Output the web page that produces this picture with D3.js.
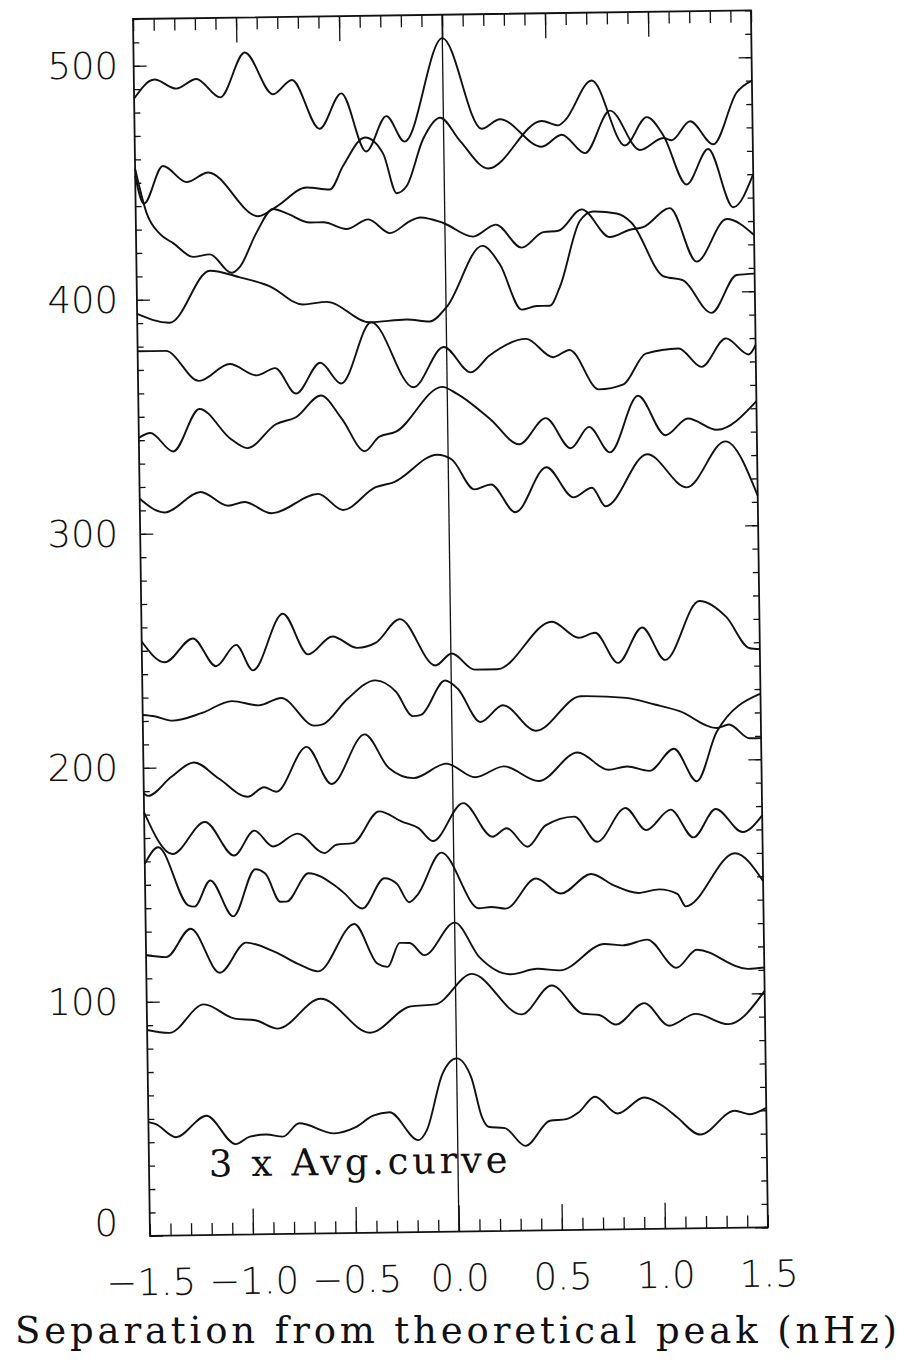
<!DOCTYPE html>
<html>
<head>
<meta charset="utf-8">
<script src="https://cdn.jsdelivr.net/npm/d3@7"></script>
<style>
  body { margin: 0; background: #fff; }
  .tick line { stroke: #111; stroke-width: 1.3; }
  .curve { fill: none; stroke: #111; stroke-width: 1.9; stroke-linejoin: round; }
</style>
</head>
<body>
<div id="chart"></div>
<script>
// each curve: [separation (nHz), value] at its turning points
var curveA = [[-1.5,486],[-1.40,494],[-1.295,490],[-1.197,494],[-1.082,486],[-0.96,505],[-0.826,487],[-0.733,493],[-0.602,472],[-0.494,487],[-0.377,462],[-0.277,477],[-0.19,466],[0.0,510],[0.185,471],[0.274,475],[0.475,463],[0.573,468],[0.685,460],[0.809,478],[0.952,461],[1.066,466],[1.106,465],[1.197,473],[1.308,463],[1.425,485],[1.5,490]];
var curveB = [[-1.5,453],[-1.46,441],[-1.365,457],[-1.25,450],[-1.146,454],[-0.906,435],[-0.816,439],[-0.669,447],[-0.556,446],[-0.49,456],[-0.382,468],[-0.295,461],[-0.232,444],[-0.183,447],[-0.1,467],[-0.016,476],[0.079,466],[0.214,454],[0.477,474],[0.557,472],[0.589,474],[0.722,491],[0.879,463],[0.987,475],[1.067,467],[1.176,446],[1.283,461],[1.401,436],[1.5,450]];
var curveC = [[-1.5,456],[-1.447,437],[-1.384,428],[-1.32,424],[-1.224,418],[-1.143,419],[-1.039,411],[-0.998,413.5],[-0.915,428],[-0.833,438],[-0.767,436],[-0.655,432],[-0.59,432],[-0.478,429],[-0.372,433],[-0.267,427],[-0.169,432],[-0.12,433.5],[-0.008,431],[0.136,425],[0.247,430],[0.371,420],[0.477,426.5],[0.55,427],[0.665,436],[0.8,424],[0.897,427],[0.962,428],[1.093,436],[1.219,413],[1.368,431],[1.5,424]];
var curveD = [[-1.5,394],[-1.342,390],[-1.144,412],[-0.999,409],[-0.854,405],[-0.694,397],[-0.58,398],[-0.371,389],[-0.192,390],[-0.08,389],[0.002,395],[0.18,421],[0.264,413],[0.367,393.5],[0.44,395],[0.504,395],[0.554,403],[0.655,431],[0.72,435],[0.834,434],[0.906,430],[1.056,407],[1.153,405],[1.288,391],[1.413,407],[1.5,407.5]];
var curveE = [[-1.5,378],[-1.364,378],[-1.204,365],[-1.054,372],[-0.924,367],[-0.834,370],[-0.734,359],[-0.614,372],[-0.514,363],[-0.364,389],[-0.164,361],[-0.014,378],[0.116,367],[0.206,374],[0.386,381],[0.516,373],[0.596,376],[0.736,359],[0.856,361],[0.966,374],[1.126,376],[1.236,368],[1.356,380],[1.466,373],[1.5,377]];
var curveF = [[-1.5,341],[-1.444,343],[-1.334,335],[-1.204,353],[-1.054,340],[-0.974,336],[-0.834,346],[-0.734,349],[-0.614,358],[-0.514,348],[-0.404,334],[-0.334,340],[-0.254,342],[-0.024,361],[0.046,358],[0.206,347],[0.346,336],[0.476,347],[0.596,334],[0.686,343],[0.786,332],[0.926,356],[1.056,339],[1.166,346],[1.306,341],[1.5,353]];
var curveG = [[-1.5,315],[-1.38,309],[-1.204,317.5],[-1.072,311.5],[-0.992,313],[-0.861,308],[-0.634,316],[-0.514,309],[-0.354,318.5],[-0.264,320.6],[-0.054,332],[0.016,330],[0.126,317],[0.206,319],[0.323,307],[0.476,326],[0.606,313],[0.696,317],[0.761,309],[0.966,331],[1.156,316.6],[1.346,336],[1.5,312.6]];
var curveH = [[-1.5,254],[-1.39,245],[-1.251,255],[-1.141,243],[-1.042,252],[-0.962,241],[-0.813,265],[-0.693,247.5],[-0.574,255],[-0.454,250],[-0.365,252],[-0.245,262],[-0.076,242],[0.004,247],[0.114,240],[0.223,240],[0.492,260],[0.622,253],[0.701,255],[0.811,242],[0.93,257],[1.04,243],[1.209,268],[1.339,261],[1.448,247.6],[1.5,247]];
var curveI = [[-1.5,222.6],[-1.444,222],[-1.355,220],[-1.215,223],[-1.066,228],[-0.936,226],[-0.827,229],[-0.667,217],[-0.627,217.5],[-0.508,228],[-0.369,236],[-0.269,231],[-0.189,220.5],[-0.149,221],[-0.03,235.5],[0.03,232],[0.139,217.6],[0.249,224.6],[0.408,213.5],[0.627,228],[0.847,227],[0.986,224],[1.106,221],[1.285,213.6],[1.345,215],[1.444,209],[1.5,209]];
var curveJ = [[-1.5,189],[-1.48,188],[-1.365,196],[-1.255,202],[-1.135,195],[-0.996,187],[-0.916,191],[-0.857,189],[-0.707,208],[-0.588,192],[-0.424,213],[-0.309,198.5],[-0.189,194],[-0.03,200],[0.11,194],[0.249,198.5],[0.418,192],[0.608,204],[0.757,196.4],[0.847,197.7],[0.956,195.7],[1.076,205],[1.185,191],[1.285,212],[1.5,228]];
var curveK = [[-1.5,181],[-1.365,163],[-1.205,176.5],[-1.066,162],[-0.966,172.5],[-0.876,165.6],[-0.757,171],[-0.627,162.5],[-0.568,166],[-0.488,166.6],[-0.359,180],[-0.249,175.5],[-0.169,172.6],[-0.1,167],[0.05,183],[0.189,168.5],[0.259,172],[0.359,164],[0.448,173],[0.588,176.6],[0.697,165.7],[0.837,180],[0.936,170.4],[1.056,179],[1.165,167],[1.275,179],[1.404,169],[1.5,176]];
var curveL = [[-1.5,159],[-1.434,166],[-1.292,141],[-1.262,140.4],[-1.183,151.5],[-1.074,136],[-0.964,156],[-0.915,154],[-0.845,142],[-0.815,142],[-0.706,154],[-0.586,149],[-0.537,145.5],[-0.447,138.6],[-0.338,151.4],[-0.278,149],[-0.219,141],[-0.179,144],[-0.06,162],[0.119,138],[0.179,138.5],[0.249,137.7],[0.398,150.4],[0.517,143.8],[0.666,152],[0.775,147],[0.895,143.6],[0.994,145],[1.083,143],[1.123,137.6],[1.365,160],[1.5,148]];
var curveM = [[-1.5,120],[-1.402,119],[-1.282,131],[-1.143,112],[-1.014,124.7],[-0.875,120.6],[-0.755,115],[-0.666,112],[-0.487,132],[-0.378,115],[-0.328,113.5],[-0.268,123.7],[-0.219,123.6],[-0.149,118.3],[0.0,132],[0.119,117],[0.268,109.6],[0.398,111.8],[0.507,111],[0.726,122],[0.815,121.3],[0.934,123.6],[1.074,111.4],[1.173,119],[1.421,110.5],[1.5,111]];
var curveN = [[-1.5,88],[-1.392,86.6],[-1.223,98.6],[-1.074,92.3],[-0.974,91.5],[-0.865,87.8],[-0.656,100.3],[-0.418,85.5],[-0.219,96.5],[-0.099,97.2],[0.08,110],[0.318,92.4],[0.467,104.6],[0.616,92.3],[0.696,91.7],[0.775,87.5],[0.915,96.5],[1.034,86.7],[1.163,91.6],[1.322,87],[1.5,101]];
var avgCurve = [[-1.5,48.6],[-1.467,47.8],[-1.367,42],[-1.218,51],[-1.078,38.7],[-1.008,41.8],[-0.928,42.6],[-0.848,41.6],[-0.768,47.2],[-0.599,42.7],[-0.499,45],[-0.409,50],[-0.329,51.4],[-0.19,39.3],[-0.15,43.3],[-0.07,67.4],[0.0,74],[0.07,65.8],[0.12,48.6],[0.15,44.6],[0.23,43.9],[0.329,36.2],[0.449,46.8],[0.529,47.4],[0.589,50.2],[0.669,56.8],[0.778,49.5],[0.908,56.2],[1.008,51.8],[1.068,47.4],[1.178,40],[1.347,50],[1.417,48.4],[1.5,51]];

var curves = [curveA, curveB, curveC, curveD, curveE, curveF, curveG, curveH,
              curveI, curveJ, curveK, curveL, curveM, curveN, avgCurve];

var yLabelTicks = [0, 100, 200, 300, 400, 500];
var xLabelTicks = [-1.5, -1.0, -0.5, 0.0, 0.5, 1.0, 1.5];
var xTitle = "Separation from theoretical peak (nHz)";
var avgNote = "3 x Avg.curve";

var width = 909, height = 1364;
var plotLeft = 133, plotTop = 19, w = 618, h = 1217;

var x = d3.scaleLinear().domain([-1.5, 1.5]).range([0, w]);
var y = d3.scaleLinear().domain([0, 520]).range([h, 0]);

var svg = d3.select("#chart").append("svg")
  .attr("width", width)
  .attr("height", height);

// the scanned page sits a little askew
var g = svg.append("g")
  .attr("transform", `rotate(-0.8,${plotLeft},${plotTop}) translate(${plotLeft},${plotTop})`);

var xMinor = d3.range(-15, 16).map(d => d / 10);
var yMinor = d3.range(0, 521, 10);

function noText(sel) { sel.selectAll("text").remove(); sel.select(".domain").remove(); }

// bottom + top ticks
g.append("g").attr("transform", `translate(0,${h})`)
  .call(d3.axisBottom(x).tickValues(xMinor).tickSize(-12)).call(noText);
g.append("g").attr("transform", `translate(0,${h})`)
  .call(d3.axisBottom(x).tickValues([-1, -0.5, 0, 0.5, 1]).tickSize(-26)).call(noText);
g.append("g")
  .call(d3.axisTop(x).tickValues(xMinor).tickSize(-12)).call(noText);
g.append("g")
  .call(d3.axisTop(x).tickValues([-1, -0.5, 0, 0.5, 1]).tickSize(-25)).call(noText);

// left + right ticks
g.append("g").call(d3.axisLeft(y).tickValues(yMinor).tickSize(-6)).call(noText);
g.append("g").call(d3.axisLeft(y).tickValues(yLabelTicks).tickSize(-13)).call(noText);
g.append("g").attr("transform", `translate(${w},0)`)
  .call(d3.axisRight(y).tickValues(yMinor).tickSize(-6)).call(noText);
g.append("g").attr("transform", `translate(${w},0)`)
  .call(d3.axisRight(y).tickValues(yLabelTicks).tickSize(-13)).call(noText);

// x labels follow the tilted frame
var xAxisLab = g.append("g").attr("transform", `translate(0,${h})`)
  .call(d3.axisBottom(x).tickValues(xLabelTicks).tickSize(0).tickPadding(33)
    .tickFormat(d => d3.format(".1f")(d).replace("-", "\u2212")));
xAxisLab.select(".domain").remove();
xAxisLab.selectAll("text")
  .attr("font-family", "DejaVu Sans")
  .attr("font-weight", 200)
  .attr("font-size", 37)
  .attr("fill", "#111");

// y labels sit in one straight column on the page
var yAxisLab = svg.append("g")
  .attr("transform", `translate(118,${plotTop})`)
  .call(d3.axisLeft(y).tickValues(yLabelTicks).tickSize(0).tickPadding(0));
yAxisLab.select(".domain").remove();
yAxisLab.selectAll("text")
  .attr("font-family", "DejaVu Sans")
  .attr("font-weight", 200)
  .attr("font-size", 37)
  .attr("fill", "#111")
  .attr("dy", d => d === 0 ? "-0.02em" : "0.34em");

// frame
g.append("rect")
  .attr("width", w).attr("height", h)
  .attr("fill", "none").attr("stroke", "#111").attr("stroke-width", 1.8);

// zero line
g.append("line")
  .attr("x1", x(0)).attr("x2", x(0))
  .attr("y1", 0).attr("y2", h)
  .attr("stroke", "#111").attr("stroke-width", 1.3);

var line = d3.line()
  .x(d => x(d[0]))
  .y(d => y(d[1]))
  .curve(d3.curveMonotoneX);

g.selectAll(".curve")
  .data(curves)
  .enter().append("path")
  .attr("class", "curve")
  .attr("d", line);

g.append("text")
  .attr("x", x(-1.21))
  .attr("y", y(25))
  .attr("font-family", "DejaVu Serif")
  .attr("font-size", 37)
  .attr("fill", "#111")
  .attr("textLength", x(0.24) - x(-1.21))
  .attr("lengthAdjust", "spacing")
  .text(avgNote);

svg.append("text")
  .attr("x", 456)
  .attr("y", 1343)
  .attr("text-anchor", "middle")
  .attr("font-family", "DejaVu Serif")
  .attr("font-size", 37)
  .attr("fill", "#111")
  .attr("textLength", 882)
  .attr("lengthAdjust", "spacing")
  .text(xTitle);
</script>
</body>
</html>
